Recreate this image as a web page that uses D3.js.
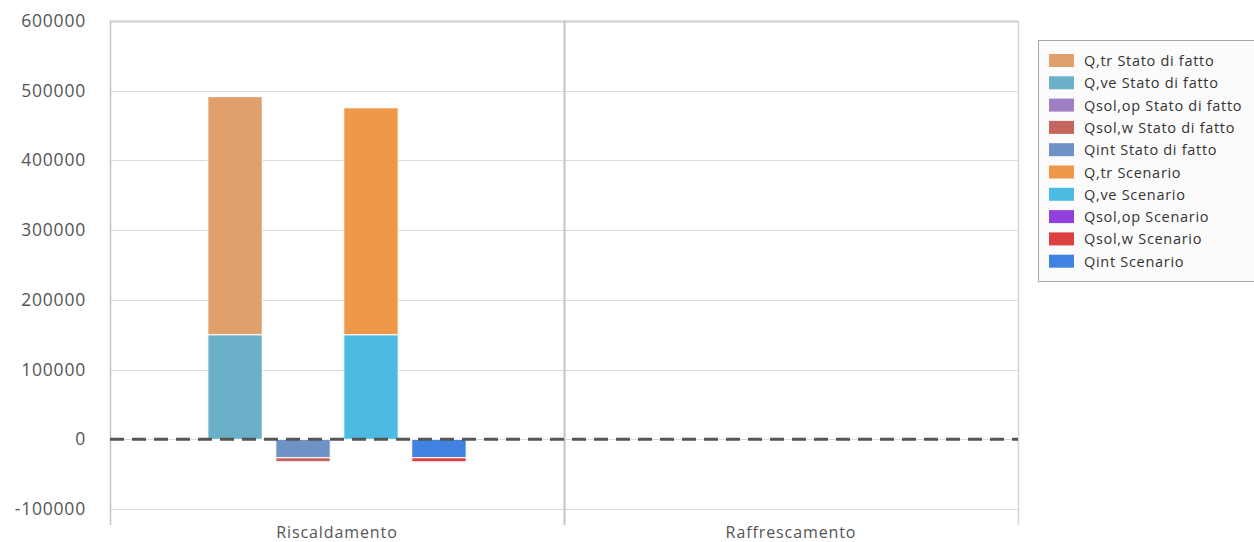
<!DOCTYPE html>
<html>
  <head>
    <meta charset="utf-8">
    <script src="https://cdn.jsdelivr.net/npm/d3@7"></script>
    <style>
      body { margin: 0; background: #fff; }
      text { font-family: "Open Sans", sans-serif; fill: #555; }
      .legend text { fill: #333; font-size: 14.5px; letter-spacing: 0.7px; }
    </style>
  </head>
  <body>
    <div id="chart"></div>
    <script>
      // data
      var categories = ["Riscaldamento", "Raffrescamento"];
      var stacks = ["fatto_disp", "fatto_app", "scen_disp", "scen_app"];
      var seriesNames = [
        "Q,tr Stato di fatto", "Q,ve Stato di fatto", "Qsol,op Stato di fatto",
        "Qsol,w Stato di fatto", "Qint Stato di fatto",
        "Q,tr Scenario", "Q,ve Scenario", "Qsol,op Scenario",
        "Qsol,w Scenario", "Qint Scenario"
      ];
      var seriesStack = ["fatto_disp", "fatto_disp", "fatto_app", "fatto_app", "fatto_app",
                         "scen_disp", "scen_disp", "scen_app", "scen_app", "scen_app"];
      var seriesColors = ["#e0a06c", "#6ab0c9", "#a080c4", "#c4665e", "#6f92c6",
                          "#f0984a", "#4bbbe3", "#9040dc", "#dc4040", "#3f82e2"];
      // values per category [Riscaldamento, Raffrescamento]
      var qtrFatto = [341500, 0];
      var qveFatto = [150000, 0];
      var qsolopFatto = [-300, 0];
      var qsolwFatto = [-6000, 0];
      var qintFatto = [-26500, 0];
      var qtrScen = [325500, 0];
      var qveScen = [150000, 0];
      var qsolopScen = [-300, 0];
      var qsolwScen = [-6000, 0];
      var qintScen = [-26500, 0];
      var seriesValues = [qtrFatto, qveFatto, qsolopFatto, qsolwFatto, qintFatto,
                          qtrScen, qveScen, qsolopScen, qsolwScen, qintScen];
      var yTicks = [-100000, 0, 100000, 200000, 300000, 400000, 500000, 600000];

      (function() {
      var W = 1254, H = 542;
      var mLeft = 110, mRight = 1018, mTop = 21, mBottom = 509;

      var svg = d3.select("#chart").append("svg").attr("width", W).attr("height", H);

      var y = d3.scaleLinear().domain([-100000, 600000]).range([mBottom, mTop]);
      var x = d3.scaleBand().domain(categories).range([mLeft, mRight]).padding(0);
      var xs = d3.scaleBand().domain(stacks).range([0, x.bandwidth()])
        .paddingInner(0.2).paddingOuter(1.44);

      // gridlines
      svg.append("g").selectAll("line").data(yTicks).enter().append("line")
        .attr("x1", mLeft).attr("x2", mRight)
        .attr("y1", function(d) { return Math.round(y(d)) + 0.5; })
        .attr("y2", function(d) { return Math.round(y(d)) + 0.5; })
        .attr("stroke", function(d) { return d === 600000 ? "#dcdcdc" : "#d8dadf"; })
        .attr("stroke-width", function(d) { return d === 600000 ? 3 : 1; });

      // y labels
      svg.append("g").selectAll("text").data(yTicks).enter().append("text")
        .attr("x", 86).attr("y", function(d) { return y(d) + 6; })
        .attr("text-anchor", "end").style("font-size", "17.5px").style("letter-spacing", "0.8px")
        .text(function(d) { return d; });

      // category ticks / dividers
      var xLines = [mLeft, mLeft + x.bandwidth(), mRight];
      svg.append("g").selectAll("line").data(xLines).enter().append("line")
        .attr("x1", function(d) { return d + 0.5; }).attr("x2", function(d) { return d + 0.5; })
        .attr("y1", mTop).attr("y2", 525)
        .attr("stroke", function(d, i) { return i === 2 ? "#d4d8e0" : "#c0c4cc"; })
        .attr("stroke-width", function(d, i) { return i === 1 ? 2 : 1.5; });

      // stacked bars: later series sit closest to zero (reversed stacks)
      var posBase = {}, negBase = {};
      var bars = [];
      for (var si = seriesValues.length - 1; si >= 0; si--) {
        categories.forEach(function(c, ci) {
          var key = c + "|" + seriesStack[si];
          var v = seriesValues[si][ci];
          if (!v) return;
          var y0, y1;
          if (v >= 0) { y0 = posBase[key] || 0; y1 = y0 + v; posBase[key] = y1; }
          else { y0 = negBase[key] || 0; y1 = y0 + v; negBase[key] = y1; }
          bars.push({ c: c, s: seriesStack[si], y0: y0, y1: y1, color: seriesColors[si] });
        });
      }

      svg.append("g").selectAll("rect").data(bars).enter().append("rect")
        .attr("x", function(d) { return x(d.c) + xs(d.s); })
        .attr("width", xs.bandwidth())
        .attr("y", function(d) { return y(Math.max(d.y0, d.y1)); })
        .attr("height", function(d) { return Math.abs(y(d.y0) - y(d.y1)); })
        .attr("fill", function(d) { return d.color; })
        .attr("stroke", "#fff").attr("stroke-width", 1);

      // zero dashed line
      svg.append("line")
        .attr("x1", mLeft).attr("x2", mRight)
        .attr("y1", y(0)).attr("y2", y(0))
        .attr("stroke", "#555").attr("stroke-width", 3)
        .attr("stroke-dasharray", "14,8");

      // category labels
      svg.append("g").selectAll("text").data(categories).enter().append("text")
        .attr("x", function(d) { return x(d) + x.bandwidth() / 2; })
        .attr("y", 538).attr("text-anchor", "middle")
        .style("font-size", "16px").style("letter-spacing", "0.9px")
        .text(function(d) { return d; });

      // legend
      var lg = svg.append("g").attr("class", "legend");
      lg.append("rect").attr("x", 1038.5).attr("y", 40.5).attr("width", 230).attr("height", 241)
        .attr("fill", "#fbfbfb").attr("stroke", "#a8a8a8");
      var item = lg.selectAll("g.item").data(seriesNames).enter().append("g")
        .attr("transform", function(d, i) { return "translate(0," + (61 + i * 22.3) + ")"; });
      item.append("rect").attr("x", 1049).attr("y", -7).attr("width", 25).attr("height", 13)
        .attr("fill", function(d, i) { return seriesColors[i]; });
      item.append("text").attr("x", 1084).attr("y", 5).text(function(d) { return d; });
      })();
    </script>
  </body>
</html>
